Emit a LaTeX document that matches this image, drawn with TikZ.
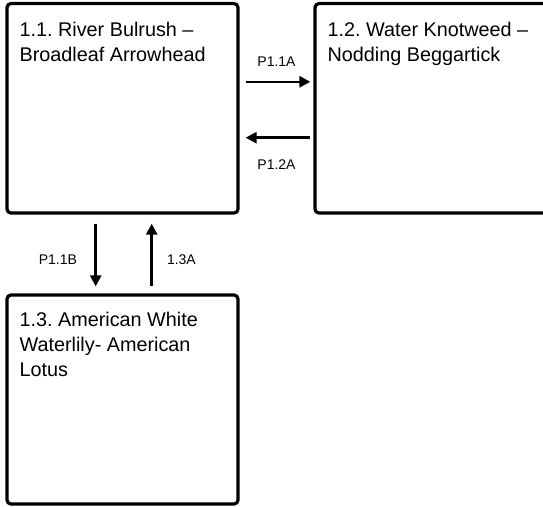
\documentclass[tikz,border=0pt]{standalone}
\usepackage{fontspec}
\setmainfont{Liberation Sans}
\usetikzlibrary{positioning,arrows.meta}
\frenchspacing

\begin{document}
\begin{tikzpicture}[x=1pt, y=1pt,
  box/.style={draw, line width=3.2pt, rounded corners=4pt, inner sep=0pt},
  boxtext/.style={anchor=north west, inner sep=0pt, align=left, font=\fontsize{19.8}{25}\selectfont},
  flow/.style={line width=2.6pt, -{Triangle[length=11pt, width=11pt]}},
  flowlabel/.style={inner sep=0pt, font=\fontsize{14}{16}\selectfont}]
  \useasboundingbox (0,0) rectangle (543,-506);
  \node[box, minimum width=231pt, minimum height=209.5pt] (bulrush) at (122.5,-108.3) {};
  \node[box, minimum width=240pt, minimum height=209.5pt] (knotweed) at (435,-108.3) {};
  \node[box, minimum width=231pt, minimum height=209pt] (lotus) at (122.5,-399.5) {};
  \node[boxtext] (bulrushtxt) at ([shift={(14,-19.8)}]bulrush.north west) {1.1. River Bulrush –\\Broadleaf Arrowhead};
  \node[boxtext] (knotweedtxt) at ([shift={(14,-19.8)}]knotweed.north west) {1.2. Water Knotweed –\\Nodding Beggartick};
  \node[boxtext] (lotustxt) at ([shift={(14,-18.3)}]lotus.north west) {1.3. American White\\Waterlily- American\\Lotus};
  % flows between the boxes
  \draw[flow, shorten <=6pt, shorten >=3pt] ([yshift=26.5pt]bulrush.east) -- node[flowlabel, above=14pt] (p11a) {P1.1A} ([yshift=26.5pt]knotweed.west);
  \draw[flow, shorten <=3pt, shorten >=6pt] ([yshift=-29.4pt]knotweed.west) -- node[flowlabel, below=21pt] (p12a) {P1.2A} ([yshift=-29.4pt]bulrush.east);
  \draw[flow, shorten <=9pt, shorten >=7pt] ([xshift=-26.8pt]bulrush.south) -- node[flowlabel, left=17.5pt, yshift=-6pt] (p11b) {P1.1B} ([xshift=-26.8pt]lotus.north);
  \draw[flow, shorten <=7pt, shorten >=9pt] ([xshift=29.2pt]lotus.north) -- node[flowlabel, right=14pt, yshift=-6pt] (p13a) {1.3A} ([xshift=29.2pt]bulrush.south);
\end{tikzpicture}
\end{document}
